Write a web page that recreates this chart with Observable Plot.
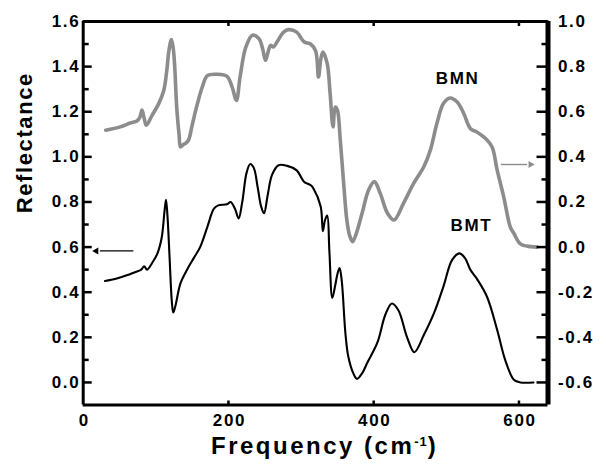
<!DOCTYPE html>
<html><head><meta charset="utf-8">
<script src="https://cdn.jsdelivr.net/npm/d3@7"></script>
<script src="https://cdn.jsdelivr.net/npm/@observablehq/plot@0.6"></script>
<style>
body{margin:0;background:#fff;}
#chart{position:relative;width:606px;height:471px;background:#fff;overflow:hidden;}
#xtitle{position:absolute;left:211px;top:434px;font:bold 24px "Liberation Sans",Arial,sans-serif;letter-spacing:2.5px;line-height:24px;white-space:nowrap;color:#000;}
#xtitle sup{font-size:13px;line-height:0;vertical-align:8px;letter-spacing:1px;}
</style></head><body>
<div id="chart"><div id="xtitle">Frequency (cm<sup>-1</sup>)</div></div>
<script>
// Frequency (cm-1), reflectance (BMT)
const bmtFreq = [30,45,60,72,80,84,88,95,102,108,112,114,116,119,122,124,127,134,143,152,161,171,180,186,198,203,209,214,219,225,230,235,240,245,249,254,260,269,281,294,304,313,317,327,330,333,336,339,343,347,350,353,356,361,365,372,377,384,391,405,416,425,434,446,456,469,483,496,508,518,526,533,542,556,570,581,593,602,620];
const bmtVal  = [0.45,0.46,0.475,0.49,0.50,0.515,0.50,0.53,0.57,0.64,0.76,0.81,0.74,0.55,0.36,0.31,0.34,0.44,0.50,0.55,0.60,0.69,0.77,0.785,0.79,0.80,0.77,0.727,0.80,0.93,0.968,0.95,0.87,0.78,0.75,0.83,0.92,0.963,0.96,0.94,0.89,0.875,0.86,0.78,0.67,0.72,0.74,0.58,0.375,0.43,0.48,0.507,0.45,0.22,0.115,0.04,0.016,0.04,0.086,0.176,0.30,0.35,0.32,0.20,0.134,0.21,0.307,0.425,0.543,0.572,0.55,0.50,0.46,0.38,0.233,0.10,0.012,0.0,0.0];
// BMN
const bmnFreq = [31,51,65,74,78,81,84,87,95,104,111,115,118,121.5,124,126,129,132,134,138,141,145,150,155,164,171,184,198,205,211,216,224,233,242,247,251,255,258,262,267,276,283,294,304,313,320,324,327,330,336,340,344,347,350,354,359,363,367,371,376,384,393,401,409,419,428,441,455,469,478,487,496,505,515,524,533,542,554,563,570,579,588,593,602,616,625];
const bmnVal  = [0.518,0.533,0.55,0.559,0.575,0.607,0.57,0.54,0.585,0.636,0.695,0.78,0.87,0.92,0.88,0.80,0.607,0.50,0.444,0.455,0.46,0.474,0.54,0.607,0.71,0.76,0.766,0.757,0.71,0.65,0.754,0.887,0.939,0.924,0.88,0.828,0.87,0.894,0.887,0.91,0.953,0.964,0.953,0.91,0.90,0.87,0.754,0.83,0.865,0.813,0.68,0.533,0.621,0.607,0.474,0.267,0.12,0.05,0.024,0.06,0.15,0.253,0.29,0.238,0.15,0.12,0.194,0.282,0.356,0.43,0.548,0.636,0.661,0.643,0.592,0.526,0.51,0.481,0.444,0.341,0.223,0.09,0.061,0.014,0.002,0.0];

// axes
const xDomain = [0, 640];
const yDomain = [-0.1, 1.6];
const xTicks = [0, 200, 400, 600];
const leftTicks = [0, 0.2, 0.4, 0.6, 0.8, 1.0, 1.2, 1.4, 1.6];
const leftMinor = [0.1, 0.3, 0.5, 0.7, 0.9, 1.1, 1.3, 1.5];
const rightShift = 0.6; // right axis value = left axis value - 0.6
const rightTickLabels = ["-0.6","-0.4","-0.2","0.0","0.2","0.4","0.6","0.8","1.0"];

// annotations
const curveLabels = [{text:"BMN", x:512, y:1.347}, {text:"BMT", x:531, y:0.694}];
const arrows = [
  {x1:69, y1:0.583, x2:18, y2:0.583, color:"#000", dir:-1},
  {x1:575, y1:0.966, x2:616, y2:0.966, color:"#8c8c8c", dir:1}
];

const bmt = bmtFreq.map((f,i) => ({f, v: bmtVal[i]}));
const bmn = bmnFreq.map((f,i) => ({f, v: bmnVal[i]}));

const plot = Plot.plot({
  width: 606, height: 434,
  marginLeft: 82.7, marginRight: 58.5, marginTop: 21, marginBottom: 29.5,
  x: {domain: xDomain},
  y: {domain: yDomain},
  style: {fontFamily: '"Liberation Sans", Arial, sans-serif', fontSize: "17px", fontWeight: "bold", color: "#000", background: "#fff", letterSpacing: "1.6px", overflow: "visible"},
  marks: [
    Plot.line(bmn, {x: "f", y: d => d.v + rightShift, stroke: "#8c8c8c", strokeWidth: 3.6, curve: "catmull-rom", strokeLinejoin: "round"}),
    Plot.line(bmt, {x: "f", y: "v", stroke: "#000", strokeWidth: 2.1, curve: "catmull-rom", strokeLinejoin: "round"}),
    // frame
    Plot.ruleX([xDomain[0]], {stroke: "#000", strokeWidth: 3}),
    Plot.ruleX([xDomain[1]], {stroke: "#000", strokeWidth: 5}),
    Plot.ruleY([yDomain[0]], {stroke: "#000", strokeWidth: 3}),
    Plot.ruleY([yDomain[1]], {stroke: "#000", strokeWidth: 3}),
    // inward ticks
    Plot.axisY(leftTicks, {anchor: "left", tickSize: 9, dx: 9, strokeWidth: 2.5, tickFormat: () => "", label: null}),
    Plot.axisY(leftMinor, {anchor: "left", tickSize: 6, dx: 6, strokeWidth: 2.5, tickFormat: () => "", label: null}),
    Plot.axisY(leftTicks, {anchor: "right", tickSize: 12, dx: -12, strokeWidth: 2.5, tickFormat: () => "", label: null}),
    Plot.axisY(leftMinor, {anchor: "right", tickSize: 7, dx: -7, strokeWidth: 2.5, tickFormat: () => "", label: null}),
    Plot.axisX(xTicks.slice(1), {anchor: "bottom", tickSize: 4, dy: -4, strokeWidth: 2.5, tickFormat: () => "", label: null}),
    Plot.axisX(xTicks.slice(1), {anchor: "top", tickSize: 4, dy: 4, strokeWidth: 2.5, tickFormat: () => "", label: null}),
    // tick labels
    Plot.axisY(leftTicks, {anchor: "left", tickSize: 0, tickPadding: 3, tickFormat: d => d.toFixed(1), label: null}),
    Plot.axisY(leftTicks, {anchor: "right", tickSize: 0, tickPadding: 10, tickFormat: d => rightTickLabels[leftTicks.indexOf(d)], label: null}),
    Plot.axisX(xTicks, {anchor: "bottom", tickSize: 0, tickPadding: 9, dx: 1, label: null}),
    // y title
    Plot.text(["Reflectance"], {frameAnchor: "left", rotate: -90, dx: -58.5, fontSize: 22, fontWeight: "bold", ariaLabel: "ytitle"}),
    // curve labels
    Plot.text(curveLabels, {x: "x", y: "y", text: "text", fontSize: 17, fontWeight: "bold", dx: 2.5, ariaLabel: "curvelabels"}),
    // arrows
    Plot.link(arrows, {x1: "x1", y1: "y1", x2: d => d.x2 - d.dir * 5, y2: "y2", stroke: "color", strokeWidth: 1.4}),
    Plot.dot(arrows, {x: "x2", y: "y2", symbol: "triangle", r: 2.6, fill: "color", stroke: "none", rotate: d => d.dir * 90, dx: 0}),
  ]
});
plot.style.position = "absolute";
plot.style.left = "0px";
plot.style.top = "0px";
const chart = document.getElementById("chart");
chart.insertBefore(plot, chart.firstChild);
d3.select(plot).selectAll('g[aria-label="curvelabels"] text').style("letter-spacing", "5px");
d3.select(plot).selectAll('g[aria-label="ytitle"] text').style("letter-spacing", "1.3px");
</script>
</body></html>
